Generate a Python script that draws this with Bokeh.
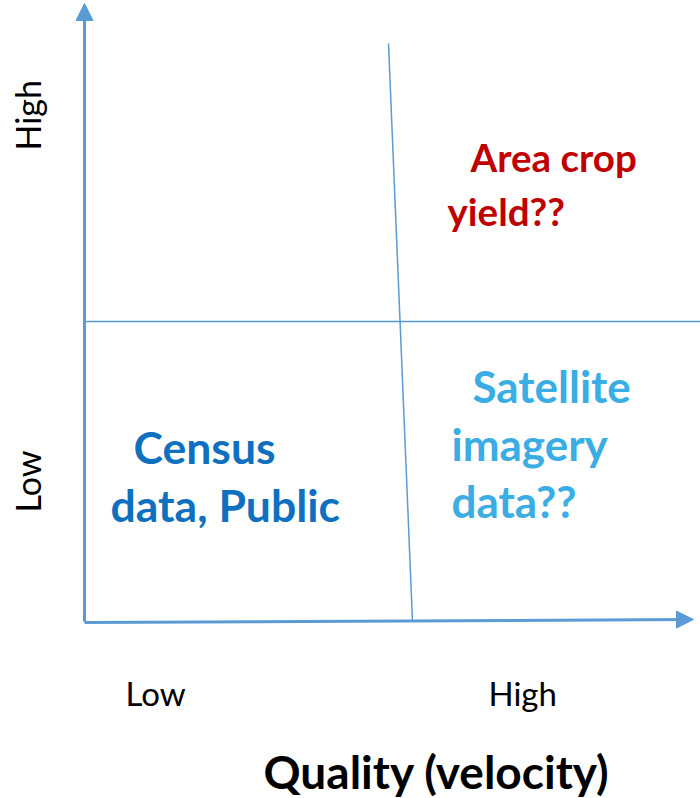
from math import pi
from bokeh.plotting import figure
from bokeh.models import Range1d, Arrow, NormalHead
from bokeh.core.properties import value
from bokeh.embed import file_html
from bokeh.resources import INLINE

# ---- content ----
x_levels = ["Low", "High"]
y_levels = ["Low", "High"]
x_title = "Quality (velocity)"
q_high_high = ["Area crop", "yield??"]
q_low_high = ["Satellite", "imagery", "data??"]
q_low_low = ["Census", "data, Public"]

# ---- layout (screen-like coordinates, y grows downward) ----
AX = "#5B9BD5"
FONT = "Lato"
W, H = 700, 798


def base(target, size):
    # shift so the alphabetic baseline lands on the target position
    return target - 0.33 * size


p = figure(width=W, height=H, x_range=Range1d(0, W), y_range=Range1d(H, 0),
           output_backend="svg", toolbar_location=None, min_border=0)
p.axis.visible = False
p.grid.visible = False
p.outline_line_color = None

# axes with arrows
p.add_layout(Arrow(x_start=84, y_start=621, x_end=84, y_end=3, line_color=AX, line_width=3,
                   end=NormalHead(size=17, fill_color=AX, line_color=AX, line_width=1)))
p.add_layout(Arrow(x_start=84, y_start=622, x_end=693, y_end=619, line_color=AX, line_width=3,
                   end=NormalHead(size=17, fill_color=AX, line_color=AX, line_width=1)))

# quadrant dividers
p.line([388, 412], [43, 621], line_color=AX, line_width=1.5)
p.line([84, 700], [321, 321], line_color=AX, line_width=1.5)

# axis tick labels
s = 33
p.text(x=[125, 488], y=[base(703, s)] * 2, text=x_levels, text_font=value(FONT),
       text_font_size=f"{s}px", text_color="black", text_baseline="alphabetic")
s = 34
p.text(x=[base(38, s)] * 2, y=[512, 150], text=y_levels, text_font=value(FONT),
       text_font_size=f"{s}px", text_color="black", text_baseline="alphabetic", angle=pi / 2)
s = 46
p.text(x=[263], y=[base(786, s)], text=[x_title], text_font=value(FONT), text_font_size=f"{s}px",
       text_font_style="bold", text_color="black", text_baseline="alphabetic")

# quadrant labels
s = 38.5
p.text(x=[470, 447], y=[base(169, s), base(223, s)], text=q_high_high, text_font=value(FONT),
       text_font_size=f"{s}px", text_font_style="bold", text_color="#C00000",
       text_baseline="alphabetic")
s = 44
p.text(x=[472, 451, 451], y=[base(400, s), base(458, s), base(515, s)], text=q_low_high,
       text_font=value(FONT), text_font_size=f"{s}px", text_font_style="bold",
       text_color="#3BADE5", text_baseline="alphabetic")
s = 44.5
p.text(x=[133, 110], y=[base(461, s), base(519, s)], text=q_low_low, text_font=value(FONT),
       text_font_size=f"{s}px", text_font_style="bold", text_color="#0F70C0",
       text_baseline="alphabetic")

open("out.html", "w").write(file_html(p, INLINE))
